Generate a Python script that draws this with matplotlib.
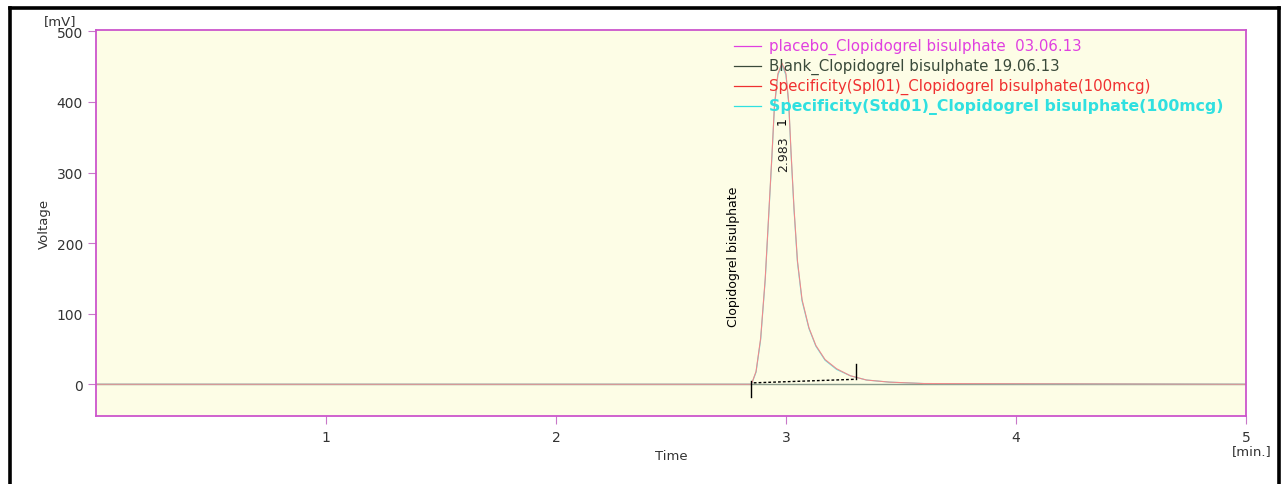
import matplotlib.pyplot as plt
from matplotlib.lines import Line2D

# retention time [min] and detector response [mV]
t_spl = [0, 2.85, 2.87, 2.89, 2.91, 2.925, 2.94, 2.95, 2.965, 2.983, 3.0, 3.012,
         3.022, 3.035, 3.05, 3.07, 3.10, 3.13, 3.17, 3.22, 3.28, 3.35, 3.45, 3.6, 5.0]
v_spl = [0, 0, 18, 65, 150, 240, 330, 395, 440, 455, 440, 400,
         330, 250, 175, 120, 80, 55, 35, 22, 12, 6, 3, 1, 0]
t_std = [0, 2.85, 2.87, 2.89, 2.91, 2.925, 2.94, 2.95, 2.965, 2.983, 3.0, 3.012,
         3.022, 3.035, 3.05, 3.07, 3.10, 3.13, 3.17, 3.22, 3.28, 3.35, 3.45, 3.6, 5.0]
v_std = [0, 0, 17, 63, 148, 238, 328, 393, 438, 453, 438, 398,
         328, 248, 173, 118, 79, 54, 34, 21, 12, 6, 3, 1, 0]
t_blank = [0, 5.0]
v_blank = [0, 0]
t_placebo = [0, 5.0]
v_placebo = [0.5, 0.5]

# integration baseline and peak markers
base_t = [2.86, 3.30]
base_v = [2, 7]
peak_rt = 2.983
peak_name = "Clopidogrel bisulphate"

legend_labels = ["placebo_Clopidogrel bisulphate  03.06.13",
                 "Blank_Clopidogrel bisulphate 19.06.13",
                 "Specificity(Spl01)_Clopidogrel bisulphate(100mcg)",
                 "Specificity(Std01)_Clopidogrel bisulphate(100mcg)"]
legend_colors = ["#e040e0", "#3a4a3a", "#f03030", "#30e0e0"]

xticks = [1, 2, 3, 4, 5]
yticks = [0, 100, 200, 300, 400, 500]

fig = plt.figure(figsize=(12.83, 4.85), dpi=100)
ax = fig.add_axes([0.0748, 0.1402, 0.8963, 0.7959])
ax.set_facecolor("#fdfde6")

ax.plot(t_placebo, v_placebo, color=legend_colors[0], lw=0.7)
ax.plot(t_blank, v_blank, color="#8a9a8a", lw=1.0)
ax.plot(t_std, v_std, color="#60e8e8", lw=0.8)
ax.plot(t_spl, v_spl, color="#f08a8a", lw=0.8)

ax.plot(base_t, base_v, color="black", lw=1.0, ls=(0, (2, 1.5)))
ax.plot([base_t[0] - 0.01] * 2, [4, -18], color="black", lw=1.0)
ax.plot([base_t[1] + 0.005] * 2, [8, 28], color="black", lw=1.0)

ax.text(peak_rt, 374, "1", rotation=90, fontsize=9, ha="center", va="center", color="black")
ax.text(peak_rt + 0.005, 328, "2.983", rotation=90, fontsize=9, ha="center", va="center", color="#222222")
ax.text(2.77, 182, peak_name, rotation=90, fontsize=9, ha="center", va="center", color="black")

ax.set_xlim(0, 5)
ax.set_ylim(-45, 502)
ax.set_xticks(xticks)
ax.set_yticks(yticks)
ax.tick_params(axis="both", direction="out", length=6, width=0.8, color="#c878c8",
               labelsize=10, labelcolor="#333333")
ax.tick_params(axis="x", pad=4)
for s in ax.spines.values():
    s.set_color("#cc55cc")
    s.set_linewidth(1.3)

ax.set_ylabel("Voltage", fontsize=9.5, color="#333333", labelpad=4)
ax.set_xlabel("Time", fontsize=9.5, color="#333333", labelpad=4)
fig.text(0.047, 0.955, "[mV]", fontsize=9.5, color="#333333", ha="center", va="center")
fig.text(0.976, 0.069, "[min.]", fontsize=9.5, color="#333333", ha="center", va="center")

# legend drawn as lines + coloured text
for i, (lab, col) in enumerate(zip(legend_labels, legend_colors)):
    y = 480 - i * 28.5
    ax.plot([2.776, 2.893], [y, y], color=col, lw=0.9)
    ax.text(2.928, y, lab, fontsize=11.3 if i == 3 else 10.8, color=col, va="center", ha="left",
            fontweight="bold" if i == 3 else "normal")

# black frame around the picture (no bottom edge)
kw = dict(color="black", lw=2.6, transform=fig.transFigure, solid_capstyle="projecting")
fig.add_artist(Line2D([0.008, 0.008], [0.0, 0.981], **kw))
fig.add_artist(Line2D([0.008, 0.997], [0.981, 0.981], **kw))
fig.add_artist(Line2D([0.997, 0.997], [0.0, 0.981], **kw))

fig.savefig("out.png", dpi=100)
